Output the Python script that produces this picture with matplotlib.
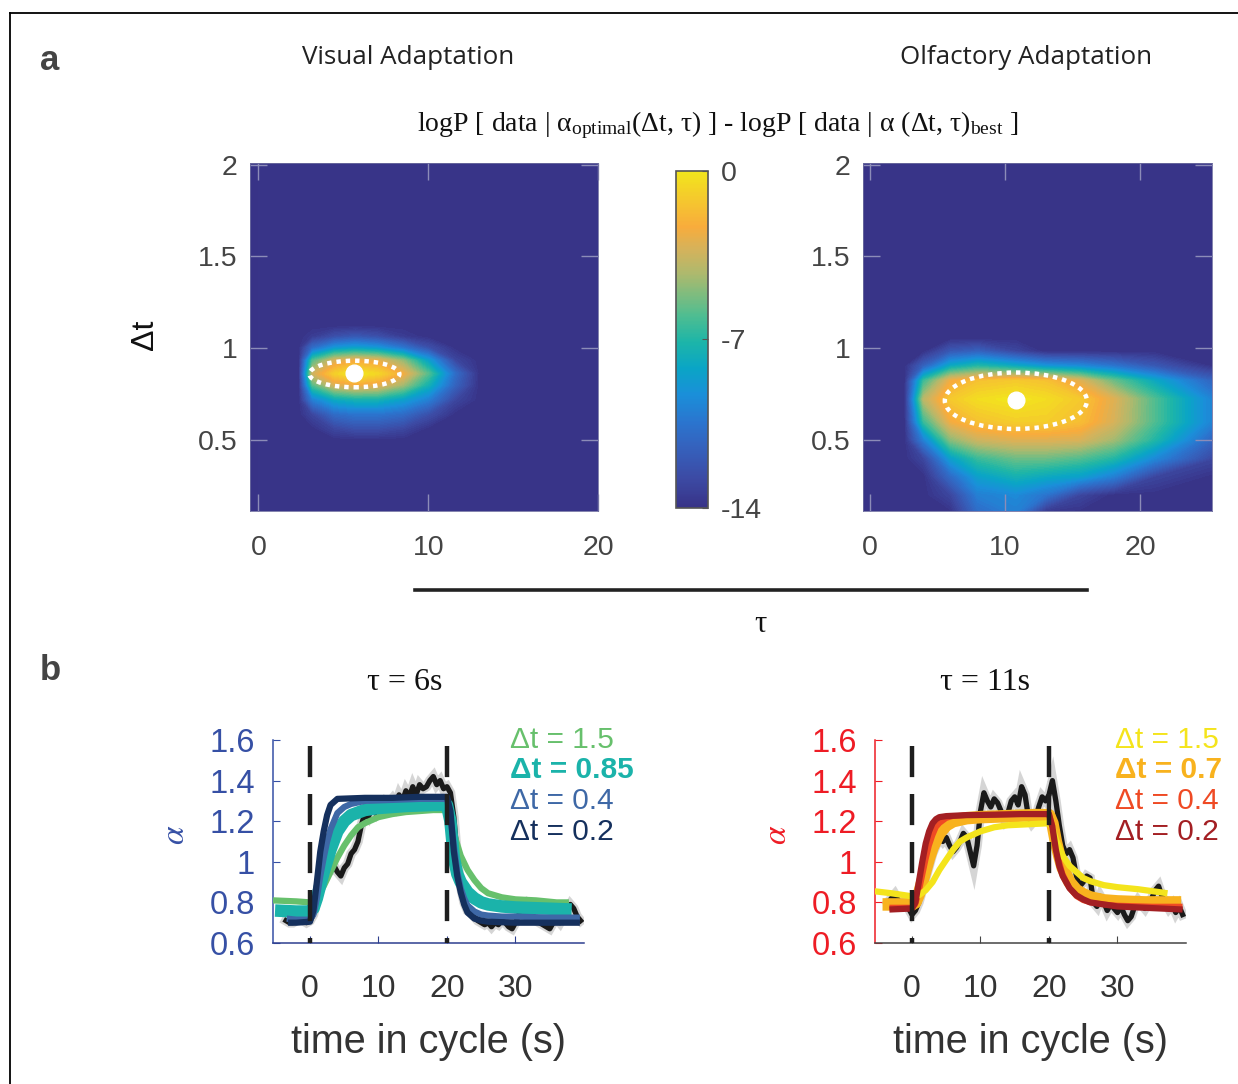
import numpy as np
import matplotlib
matplotlib.use('Agg')
import matplotlib.pyplot as plt
from matplotlib.colors import LinearSegmentedColormap, Normalize
from matplotlib.patches import Ellipse
from matplotlib.lines import Line2D
import matplotlib.cm as cm

plt.rcParams['font.family'] = ['Liberation Sans', 'DejaVu Sans']
plt.rcParams['mathtext.fontset'] = 'stix'

# ------------------------------------------------------------------ data
# Panel a: log-likelihood difference maps (rows = dt, columns = tau)
vis_tau = [0, 2.4, 3.2, 4.5, 5.7, 7, 8.5, 10, 11.6, 13, 20]
vis_dt = [0.1, 0.5, 0.56, 0.64, 0.72, 0.80, 0.86, 0.93, 1.00, 1.06, 1.12, 2.0]
vis_logp = [
    [-14, -14, -14, -14, -14, -14, -14, -14, -14, -14, -14],
    [-14, -14, -14, -14, -14, -14, -14, -14, -14, -14, -14],
    [-14, -14, -14, -13, -12.5, -12.5, -13, -14, -14, -14, -14],
    [-14, -14, -13, -11, -10.5, -10.5, -11, -12.5, -14, -14, -14],
    [-14, -14, -10, -8, -7.5, -7.5, -8.5, -10, -13, -14, -14],
    [-14, -14, -6, -3.2, -2.5, -2.8, -4.5, -7.5, -11.5, -14, -14],
    [-14, -14, -3.5, -1, 0, -0.7, -2.5, -6, -11, -14, -14],
    [-14, -14, -6, -3.2, -2.5, -2.8, -4.8, -8.5, -13, -14, -14],
    [-14, -14, -11, -9, -8.5, -9, -10.5, -12.5, -14, -14, -14],
    [-14, -14, -13.5, -12.5, -12, -12.5, -13.5, -14, -14, -14, -14],
    [-14, -14, -14, -14, -14, -14, -14, -14, -14, -14, -14],
    [-14, -14, -14, -14, -14, -14, -14, -14, -14, -14, -14],
]
olf_tau = [0, 2.6, 4, 6, 8, 10.8, 13, 15.5, 18, 21, 25.5]
olf_dt = [0.1, 0.2, 0.3, 0.4, 0.5, 0.6, 0.72, 0.82, 0.9, 0.98, 1.05, 2.0]
olf_logp = [
    [-14, -14, -14, -14, -11, -10, -14, -14, -14, -14, -14],
    [-14, -14, -14, -13, -10, -9.5, -10.5, -13, -14, -14, -14],
    [-14, -14, -14, -11, -8.5, -7.5, -8, -8.5, -10, -13, -14],
    [-14, -14, -13, -8.5, -6.5, -5.5, -5.5, -6, -7, -9.5, -13],
    [-14, -14, -10, -5, -3.5, -3, -3, -3.2, -4.5, -7, -11.5],
    [-14, -14, -6.5, -2.5, -1.5, -1, -1, -1.6, -3.2, -6, -10],
    [-14, -14, -4, -1.2, -0.4, 0, -0.4, -1.2, -3.0, -6, -10],
    [-14, -14, -6.5, -2.5, -1.5, -1.2, -1.5, -3, -5.5, -8, -11.5],
    [-14, -14, -11.5, -8, -7, -8, -9, -9.5, -10.5, -12, -14],
    [-14, -14, -14, -12, -11.5, -13, -14, -14, -14, -14, -14],
    [-14, -14, -14, -14, -14, -14, -14, -14, -14, -14, -14],
    [-14, -14, -14, -14, -14, -14, -14, -14, -14, -14, -14],
]
# best fit (tau, dt) and confidence ellipse (width in tau, height in dt)
vis_best = (5.6, 0.865)
vis_ci = (5.65, 0.858, 5.3, 0.145)
olf_best = (10.8, 0.717)
olf_ci = (10.8, 0.712, 10.5, 0.308)
cbar_ticks = [0, -7, -14]

# Panel b: measured alpha (0.5 s samples from -3.5 s to 39.5 s)
data_t_start, data_t_step = -3.5, 0.5
vis_alpha = [0.71, 0.70, 0.70, 0.71, 0.73, 0.71, 0.70, 0.71, 0.74, 0.82, 0.90, 0.95,
             0.97, 0.96, 0.98, 0.95, 0.93, 0.97, 0.99, 1.04, 1.06, 1.10, 1.18, 1.24,
             1.22, 1.26, 1.24, 1.28, 1.27, 1.30, 1.29, 1.31, 1.28, 1.33, 1.30, 1.35,
             1.32, 1.37, 1.33, 1.38, 1.36, 1.37, 1.40, 1.42, 1.38, 1.40, 1.36, 1.37,
             1.34, 1.22, 1.02, 0.88, 0.80, 0.76, 0.75, 0.73, 0.71, 0.70, 0.69, 0.70,
             0.68, 0.70, 0.69, 0.71, 0.70, 0.68, 0.67, 0.70, 0.74, 0.79, 0.80, 0.78,
             0.74, 0.71, 0.70, 0.69, 0.68, 0.67, 0.70, 0.72, 0.70, 0.73, 0.76, 0.79,
             0.77, 0.73, 0.71]
olf_alpha = [0.80, 0.82, 0.84, 0.81, 0.79, 0.80, 0.77, 0.74, 0.76, 0.80, 0.86, 0.92,
             0.98, 1.04, 1.08, 1.12, 1.10, 1.12, 1.08, 1.05, 1.07, 1.10, 1.14, 1.12,
             1.05, 0.98, 1.08, 1.25, 1.34, 1.30, 1.27, 1.31, 1.29, 1.25, 1.21, 1.24,
             1.30, 1.32, 1.28, 1.37, 1.33, 1.22, 1.19, 1.21, 1.27, 1.32, 1.30, 1.33,
             1.40, 1.30, 1.18, 1.08, 1.04, 1.06, 1.02, 0.93, 0.88, 0.90, 0.93, 0.92,
             0.80, 0.78, 0.83, 0.80, 0.76, 0.79, 0.77, 0.75, 0.78, 0.74, 0.71, 0.73,
             0.78, 0.81, 0.79, 0.77, 0.80, 0.82, 0.86, 0.88, 0.83, 0.80, 0.77, 0.79,
             0.75, 0.78, 0.74]

# model fits, tau = 6 s (visual)
vis_labels = ['Δt = 1.5', 'Δt = 0.85', 'Δt = 0.4', 'Δt = 0.2']
vis_fit_t = [
    [-5.4, -2, 0, 0.5, 1, 2, 3, 4, 5, 6, 7, 8, 10, 12, 14, 16, 18, 20, 20.5, 21, 22,
     23, 24, 25, 26, 28, 30, 33, 36, 37.8],
    [-5.1, -2, 0, 0.5, 1, 2, 3, 4, 5, 6, 8, 10, 14, 18, 20, 20.5, 21, 21.5, 22, 23,
     24, 25, 26, 28, 30, 34, 38.2],
    [-3.4, -2, 0, 0.5, 1, 1.5, 2, 2.5, 3, 4, 5, 6, 8, 12, 16, 20, 20.5, 21, 21.5, 22,
     22.5, 23, 24, 25, 26, 28, 30, 35, 39.4],
    [-3.2, -2, 0, 0.5, 1, 1.5, 2, 2.5, 3, 4, 8, 12, 16, 20, 20.5, 21, 21.5, 22, 22.5,
     23, 24, 25, 26, 30, 35, 39.4],
]
vis_fit_a = [
    [0.81, 0.805, 0.80, 0.81, 0.82, 0.88, 0.95, 1.02, 1.08, 1.13, 1.17, 1.19, 1.22,
     1.235, 1.245, 1.25, 1.255, 1.255, 1.22, 1.14, 1.03, 0.96, 0.91, 0.87, 0.845,
     0.825, 0.815, 0.81, 0.80, 0.80],
    [0.76, 0.755, 0.755, 0.77, 0.82, 0.95, 1.06, 1.15, 1.20, 1.23, 1.255, 1.265, 1.275,
     1.28, 1.28, 1.20, 1.02, 0.94, 0.90, 0.85, 0.82, 0.80, 0.79, 0.78, 0.775, 0.77,
     0.765],
    [0.72, 0.715, 0.715, 0.74, 0.82, 0.93, 1.02, 1.10, 1.16, 1.24, 1.27, 1.285, 1.30,
     1.305, 1.31, 1.31, 1.22, 1.08, 0.95, 0.87, 0.82, 0.785, 0.755, 0.74, 0.735, 0.73,
     0.73, 0.725, 0.725],
    [0.70, 0.70, 0.705, 0.76, 0.90, 1.05, 1.15, 1.23, 1.28, 1.31, 1.315, 1.315, 1.32,
     1.32, 1.25, 1.05, 0.93, 0.85, 0.79, 0.75, 0.72, 0.71, 0.705, 0.70, 0.70, 0.70],
]
# model fits, tau = 11 s (olfactory)
olf_labels = ['Δt = 1.5', 'Δt = 0.7', 'Δt = 0.4', 'Δt = 0.2']
olf_fit_t = [
    [-5.5, -3, 0, 0.5, 1, 2, 3, 4, 5, 6, 7, 8, 10, 12, 14, 17, 20, 20.5, 21, 22, 23,
     24, 25, 26, 28, 30, 33, 37.3],
    [-4.3, -2, 0, 0.5, 1, 1.5, 2, 2.5, 3, 4, 5, 6, 8, 10, 14, 18, 20, 20.5, 21, 21.5,
     22, 23, 24, 25, 26, 28, 30, 34, 39.3],
    [-3.3, 0, 0.5, 1, 1.5, 2, 2.5, 3, 3.5, 4, 5, 6, 8, 12, 16, 20, 20.5, 21, 21.5, 22,
     23, 24, 25, 26, 28, 30, 35, 39.5],
    [-3.3, 0, 0.5, 1, 1.5, 2, 2.5, 3, 3.5, 4, 5, 8, 12, 16, 20, 20.5, 21, 21.5, 22, 23,
     24, 25, 26, 28, 30, 35, 39.5],
]
olf_fit_a = [
    [0.855, 0.845, 0.83, 0.83, 0.835, 0.86, 0.90, 0.96, 1.01, 1.06, 1.10, 1.12, 1.15,
     1.17, 1.18, 1.185, 1.19, 1.17, 1.11, 1.03, 0.98, 0.95, 0.92, 0.905, 0.885, 0.875,
     0.865, 0.845],
    [0.79, 0.79, 0.79, 0.80, 0.84, 0.90, 0.96, 1.02, 1.07, 1.14, 1.18, 1.20, 1.215,
     1.22, 1.225, 1.23, 1.23, 1.19, 1.10, 1.03, 0.97, 0.90, 0.86, 0.84, 0.825, 0.81,
     0.805, 0.80, 0.80],
    [0.775, 0.775, 0.79, 0.85, 0.93, 1.01, 1.08, 1.13, 1.17, 1.19, 1.215, 1.225, 1.23,
     1.232, 1.235, 1.235, 1.18, 1.08, 1.00, 0.94, 0.87, 0.83, 0.81, 0.80, 0.79, 0.785,
     0.78, 0.78],
    [0.765, 0.77, 0.80, 0.90, 1.00, 1.09, 1.15, 1.19, 1.21, 1.22, 1.225, 1.23, 1.232,
     1.235, 1.235, 1.17, 1.06, 0.98, 0.93, 0.87, 0.835, 0.815, 0.80, 0.79, 0.78, 0.772,
     0.765],
]
stim_times = [0, 20]

# ------------------------------------------------------------------ style
W, H = 1238, 1084
vis_colors = ['#67c06c', '#1bb3aa', '#3e68a6', '#15305d']
vis_widths = [4.5, 9, 4.5, 4.5]
vis_order = [1, 2, 3, 4]
olf_colors = ['#f4e41c', '#f8b21e', '#ef4a24', '#a31f23']
olf_widths = [4.5, 9, 4, 4.5]
olf_order = [3, 1, 2, 4]
blue_txt = '#3650a5'
red_txt = '#ee1c25'
grey_txt = '#444444'

parula = LinearSegmentedColormap.from_list('parula_like', [
    (0.0, '#383387'), (0.086, '#3c4aa4'), (0.179, '#3562bd'), (0.257, '#2a76cf'),
    (0.336, '#1a8fd9'), (0.414, '#0aa5c6'), (0.493, '#1db5a8'), (0.571, '#4fbd91'),
    (0.636, '#80bc7e'), (0.70, '#b0b96c'), (0.771, '#d6b25a'), (0.836, '#f8ac3c'),
    (0.893, '#f6c032'), (1.0, '#f2e51c')])
norm = Normalize(vmin=-14, vmax=0)


def rect(x0, y0, x1, y1):
    return [x0 / W, 1 - y1 / H, (x1 - x0) / W, (y1 - y0) / H]


def ftext(x, y, s, **kw):
    kw.setdefault('ha', 'center')
    kw.setdefault('va', 'center')
    return fig.text(x / W, 1 - y / H, s, **kw)


fig = plt.figure(figsize=(W / 100, H / 100), dpi=100)

# frame lines
fig.add_artist(Line2D([10 / W, 1.0], [1 - 13 / H] * 2, color='black', lw=1.3))
fig.add_artist(Line2D([10 / W] * 2, [1 - 13 / H, 0], color='black', lw=1.3))

# ------------------------------------------------------------------ panel a
levels = np.linspace(-14.001, 0.001, 71)


def heat(ax, tau, dt, z, best, ci, xlim):
    ax.set_facecolor(parula(0.0))
    cs = ax.contourf(tau, dt, np.array(z), levels=levels, cmap=parula, norm=norm,
                     antialiased=False)
    cs.set_edgecolor('face')
    cs.set_linewidth(0.6)
    cx, cy, w, h = ci
    ax.add_patch(Ellipse((cx, cy), w, h, fill=False, ec='white', lw=3.2,
                         ls=(0, (1, 1.1)), zorder=5))
    ax.plot([best[0]], [best[1]], 'o', color='white', ms=12, zorder=6)
    ax.set_xlim(*xlim)
    ax.set_ylim(0.11, 2.01)
    ax.set_xticks([0, 10, 20])
    ax.set_xticklabels(['0', '10', '20'])
    ax.set_yticks([0.5, 1, 1.5, 2])
    ax.set_yticklabels(['0.5', '1', '1.5', '2'])
    ax.tick_params(direction='in', length=12, width=1, color='#8c8cb8',
                   top=True, right=True, labelsize=20.5, labelcolor=grey_txt)
    ax.tick_params(axis='x', pad=17)
    ax.tick_params(axis='y', pad=9)
    for s in ax.spines.values():
        s.set_color('#6e6ea0')
        s.set_linewidth(0.6)


axL = fig.add_axes(rect(250, 163, 598, 511))
heat(axL, vis_tau, vis_dt, vis_logp, vis_best, vis_ci, (-0.5, 20))
axR = fig.add_axes(rect(863, 163, 1212, 511))
heat(axR, olf_tau, olf_dt, olf_logp, olf_best, olf_ci, (-0.5, 25.3))

cax = fig.add_axes(rect(676, 171, 708, 508))
sm = cm.ScalarMappable(norm=norm, cmap=parula)
cb = fig.colorbar(sm, cax=cax, ticks=cbar_ticks)
cb.ax.set_yticklabels([str(t) for t in cbar_ticks])
cb.ax.tick_params(labelsize=20.5, labelcolor=grey_txt, color='#555555',
                  direction='in', length=4, pad=9)
cb.outline.set_edgecolor('#555555')
cb.outline.set_linewidth(1.2)

ftext(50, 60, 'a', fontsize=25, fontweight='bold', color=grey_txt)
ftext(408, 57, 'Visual Adaptation', fontsize=18.7, family=['Open Sans', 'DejaVu Sans'],
      color='#222222')
ftext(1026, 57, 'Olfactory Adaptation', fontsize=18.7,
      family=['Open Sans', 'DejaVu Sans'], color='#222222')
ftext(718, 125,
      r'logP [ data | $\mathregular{α_{optimal}}$(Δt, τ) ] - logP [ data | α (Δt, τ$\mathregular{)_{best}}$ ]',
      fontsize=20, family=['Liberation Serif', 'DejaVu Serif'], color='#111111')
ftext(145, 335, 'Δt', fontsize=23, rotation=90, color='#111111')
fig.add_artist(Line2D([415 / W, 1087 / W], [1 - 590 / H] * 2, color='#222222', lw=2.6))
ftext(760, 625, 'τ', fontsize=22, family=['Liberation Serif', 'DejaVu Serif'],
      color='#111111')

# ------------------------------------------------------------------ panel b
data_t = data_t_start + data_t_step * np.arange(len(vis_alpha))


def trace(ax, alpha, fits_t, fits_a, colors, widths, order, axcol, bottomcol):
    ax.plot(data_t, alpha, color='#c4c4c4', lw=7, alpha=0.7, zorder=1,
            solid_joinstyle='miter')
    ax.plot(data_t, alpha, color='#1a1a1a', lw=3.8, zorder=2)
    for ft, fa, c, w, o in zip(fits_t, fits_a, colors, widths, order):
        ax.plot(ft, fa, color=c, lw=w, zorder=2 + o, solid_capstyle='butt')
    for st in stim_times:
        ax.plot([st, st], [1.57, 0.6], color='#1e1e1e', lw=3.2,
                ls=(0, (7, 3.8)), zorder=10, dash_capstyle='butt')
    ax.set_xlim(-5.4, 40)
    ax.set_ylim(0.6, 1.6)
    ax.set_xticks([0, 10, 20, 30])
    ax.set_xticklabels(['0', '10', '20', '30'])
    ax.set_yticks([0.6, 0.8, 1.0, 1.2, 1.4, 1.6])
    ax.set_yticklabels(['0.6', '0.8', '1', '1.2', '1.4', '1.6'])
    ax.spines['top'].set_visible(False)
    ax.spines['right'].set_visible(False)
    ax.spines['left'].set_color(axcol)
    ax.spines['bottom'].set_color(bottomcol)
    ax.spines['left'].set_linewidth(1.1)
    ax.spines['bottom'].set_linewidth(1.1)
    ax.tick_params(axis='y', direction='in', length=5, color=axcol, labelcolor=axcol,
                   labelsize=23.5, pad=13)
    ax.tick_params(axis='x', direction='in', length=5, color=bottomcol,
                   labelcolor='#333333', labelsize=23, pad=22)
    ax.set_xlabel('time in cycle (s)', fontsize=28.5, color='#333333', labelpad=14)


bL = fig.add_axes(rect(273, 740, 584, 943))
trace(bL, vis_alpha, vis_fit_t, vis_fit_a, vis_colors, vis_widths, vis_order,
      blue_txt, '#2e3f8f')
bR = fig.add_axes(rect(875, 740, 1186, 943))
trace(bR, olf_alpha, olf_fit_t, olf_fit_a, olf_colors, olf_widths, olf_order,
      red_txt, '#444444')

ftext(50, 670, 'b', fontsize=25, fontweight='bold', color=grey_txt)
ftext(405, 682, 'τ = 6s', fontsize=23, family=['Liberation Serif', 'DejaVu Serif'],
      color='#111111')
ftext(985, 682, 'τ = 11s', fontsize=23, family=['Liberation Serif', 'DejaVu Serif'],
      color='#111111')
ftext(175, 835, r'$\alpha$', fontsize=24, rotation=90, color=blue_txt)
ftext(777, 835, r'$\alpha$', fontsize=24, rotation=90, color=red_txt)

leg_y = [740, 770, 801, 832]
for lab, c, y in zip(vis_labels, vis_colors, leg_y):
    ftext(510, y, lab, fontsize=21.5, color=c, ha='left',
          fontweight='bold' if lab == 'Δt = 0.85' else 'normal')
for lab, c, y in zip(olf_labels, olf_colors, leg_y):
    ftext(1115, y, lab, fontsize=21.5, color=c, ha='left',
          fontweight='bold' if lab == 'Δt = 0.7' else 'normal')

fig.savefig('out.png', dpi=100)
